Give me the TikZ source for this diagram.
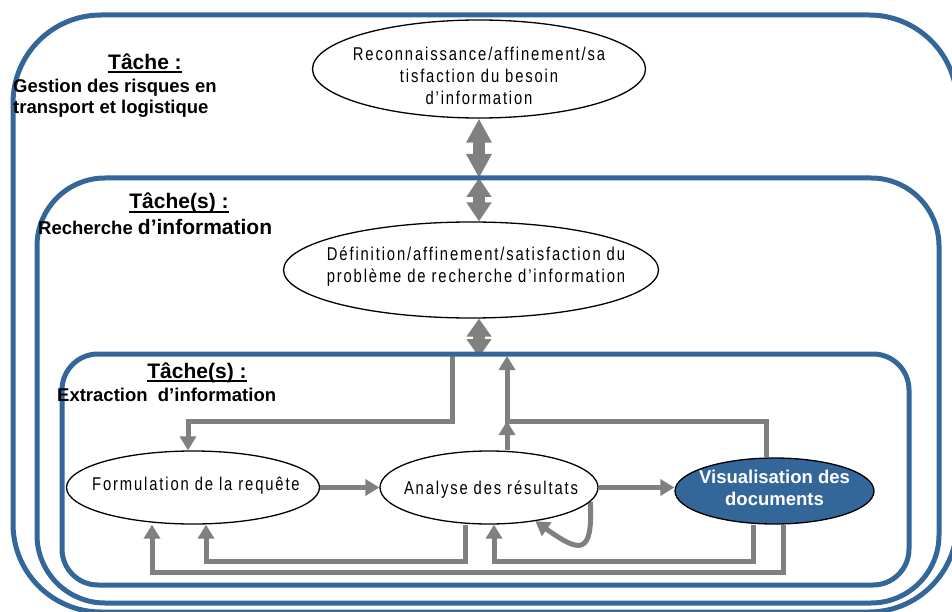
\documentclass[tikz,border=0pt]{standalone}
\usepackage{fontspec}
\setmainfont{Liberation Sans}
\newfontfamily\narrowfont[FakeStretch=0.8,LetterSpace=10]{Liberation Sans}
\usetikzlibrary{shapes.geometric,arrows.meta}
\definecolor{boxblue}{RGB}{52,103,153}
\definecolor{arrowgray}{RGB}{128,128,128}
\newcommand{\souligne}[1]{\setbox0\hbox{#1}\rlap{\rule[-3.6pt]{\wd0}{2pt}}\box0}
\pgfdeclarelayer{fleches}
\pgfsetlayers{fleches,main}
\tikzset{
  tache/.style={draw=boxblue,line width=5pt,rounded corners=#1},
  etape/.style={draw=black,line width=1.3pt,fill=white,ellipse,inner sep=0pt},
  etapetexte/.style={align=center,inner sep=0pt,font=\narrowfont\fontsize{18.5}{22}\selectfont},
  flux/.style={draw=arrowgray,line width=5pt,-{Triangle[width=16pt,length=14pt]}},
  bigtip/.style={draw=arrowgray,line width=12pt,-{Triangle[width=24pt,length=#1]}},
  bigflux/.style={draw=arrowgray,line width=12pt,{Triangle[width=24pt,length=24pt]}-{Triangle[width=24pt,length=24pt]}},
  titre/.style={anchor=base,inner sep=0pt,font=\bfseries\fontsize{21}{25}\selectfont},
  desc/.style={anchor=base west,inner sep=0pt,align=left,font=\bfseries\fontsize{18.5}{21.5}\selectfont}
}
\begin{document}
\begin{tikzpicture}[x=1pt,y=-1pt]
\useasboundingbox (0,0) rectangle (952,612);

% cadres des taches
\draw[tache=88pt] (13,15) rectangle (957,612);
\draw[tache=68pt] (37,178) rectangle (939,603);
\draw[tache=36pt] (62,354) rectangle (909,585);

\node[titre] (tacheA) at (145,69.5) {\souligne{Tâche :}};
\node[desc] (descA) at (13,114) {Gestion des risques en\\transport et logistique};
\node[titre] (tacheB) at (179,209) {\souligne{Tâche(s) :}};
\node[desc] (descB) at (38,234.3) {Recherche {\fontsize{21}{25}\selectfont d’information}};
\node[titre] (tacheC) at (197,378.7) {\souligne{Tâche(s) :}};
\node[desc] (descC) at (57,401) {Extraction \ d’information};

% etapes
\node[etape, minimum width=333pt, minimum height=98pt] (E1) at (479,69) {};
\node[etapetexte] at (479,76) {Reconnaissance/affinement/sa\\tisfaction du besoin\\d’information};
\node[etape, minimum width=375pt, minimum height=96pt] (E2) at (471,270) {};
\node[etapetexte] at (476,267) {Définition/affinement/satisfaction du\\problème de recherche d’information};
\node[etape, minimum width=253pt, minimum height=73pt] (E3) at (193,487.5) {};
\node[etapetexte] at (196,486) {Formulation de la requête};
\node[etape, minimum width=218pt, minimum height=73pt] (E4) at (489,487.5) {};
\node[etapetexte] at (491,490) {Analyse des résultats};
\node[etape, fill=boxblue, minimum width=199pt, minimum height=66pt] (E5) at (774.5,491) {};
\node[etapetexte, text=white, font=\bfseries\fontsize{18.5}{22}\selectfont] at (774.5,488) {Visualisation des\\documents};

\coordinate (K1) at (479,178);
\coordinate (M2) at (479,200);
\coordinate (M3) at (479,338);
\coordinate (K2) at (479,357);
\coordinate (T1) at (452,356);
\coordinate (J1) at (188,421);
\coordinate (J2) at (507,421);
\coordinate (J3) at (766,421);
\coordinate (B1) at (465,561);
\coordinate (B2) at (206,561);
\coordinate (B3) at (753,561);
\coordinate (B4) at (494,561);
\coordinate (B5) at (783,572);
\coordinate (B6) at (152,572);

\begin{pgfonlayer}{fleches}
\draw[bigflux] (E1.south) -- (K1);
\draw[bigtip=19pt] (M2) -- (K1);
\draw[bigtip=19pt] (M2) -- (K1 |- E2.north);
\draw[bigtip=18pt] (M3) -- (K1 |- E2.south);
\draw[bigtip=18pt] (M3) -- (K2);

\draw[flux] (T1) |- (J1) -- (J1 |- E3.north);
\draw[flux] (J2 |- E4.north) -- (J2);
\draw[flux] (J3 |- E5.north) |- (J2) -- (J2 |- T1);

\draw[flux] (E3.east) -- (E4.west);
\draw[flux] (E4.east) -- (E4.east -| E5.west);
\draw[flux] (E4.-8) .. controls (593,556) and (580,553) .. (E4.-36);

\draw[flux] (B1 |- E4.south) -- (B1) -- (B2) -- (B2 |- E3.south);
\draw[flux] (B3 |- E5.south) -- (B3) -- (B4) -- (B4 |- E4.south);
\draw[flux] (B5 |- E5.south) -- (B5) -- (B6) -- (B6 |- E3.south);
\end{pgfonlayer}
\end{tikzpicture}
\end{document}
